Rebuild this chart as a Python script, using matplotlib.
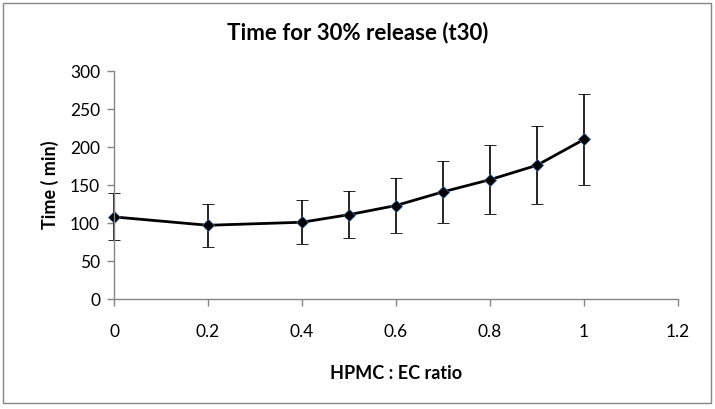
import matplotlib
matplotlib.use("Agg")
import matplotlib.pyplot as plt
from matplotlib.patches import Rectangle

# data
ratio = [0.0, 0.2, 0.4, 0.5, 0.6, 0.7, 0.8, 0.9, 1.0]
t30 = [108, 97, 101, 111, 123, 141, 157, 176, 210]
t30_err = [31, 28, 29, 31, 36, 41, 45, 51, 60]
x_ticks = [0, 0.2, 0.4, 0.6, 0.8, 1, 1.2]
x_tick_labels = ["0", "0.2", "0.4", "0.6", "0.8", "1", "1.2"]
y_ticks = [0, 50, 100, 150, 200, 250, 300]

plt.rcParams["font.family"] = ["Lato", "DejaVu Sans"]
axis_grey = "#868686"

fig = plt.figure(figsize=(7.15, 4.09), dpi=100)
ax = fig.add_axes([114 / 715, 1 - 299 / 409, (678 - 114) / 715, (299 - 71) / 409])

line, caps, bars = ax.errorbar(ratio, t30, yerr=t30_err, color="black", lw=2,
                               marker="D", ms=6, mfc="black", mec="#3a5f8f", mew=0.6,
                               ecolor="black", elinewidth=1.2, capsize=4, capthick=1.2)
line.set_clip_on(False)
for c in caps:
    c.set_clip_on(False)
for b in bars:
    b.set_clip_on(False)

ax.set_xlim(0, 1.2)
ax.set_ylim(0, 300)
ax.set_xticks(x_ticks)
ax.set_xticklabels(x_tick_labels)
ax.set_yticks(y_ticks)
ax.tick_params(axis="both", colors=axis_grey, labelcolor="black",
               labelsize=12.5, length=5, width=1)
ax.tick_params(axis="x", pad=13)
ax.tick_params(axis="y", pad=5)
for side in ("top", "right"):
    ax.spines[side].set_visible(False)
for side in ("left", "bottom"):
    ax.spines[side].set_color(axis_grey)
    ax.spines[side].set_linewidth(1)

# title is centred on the whole chart, not on the plot area
fig.text(0.5, 1 - 33 / 409, "Time for 30% release (t30)", fontsize=16,
         fontweight="bold", ha="center", va="center")
ax.set_xlabel("HPMC : EC ratio", fontsize=13, fontweight="bold", labelpad=18)
ax.set_ylabel("Time ( min)", fontsize=13, fontweight="bold", labelpad=8)

# chart border like the spreadsheet frame
fig.patches.append(Rectangle((3 / 715, 6 / 409), 708 / 715, 400 / 409,
                             transform=fig.transFigure, fill=False,
                             edgecolor=axis_grey, lw=1))

fig.savefig("out.png", dpi=100)
